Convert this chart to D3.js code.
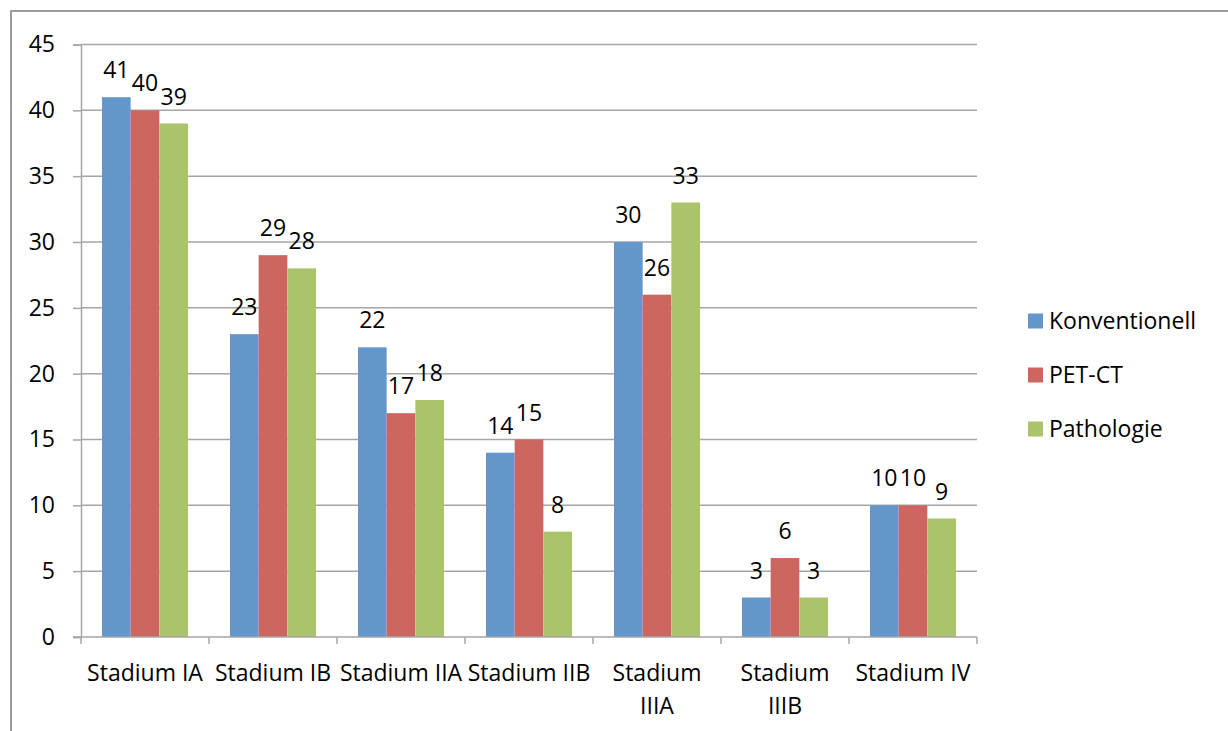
<!DOCTYPE html>
<html>
<head>
<meta charset="utf-8">
<script src="https://cdn.jsdelivr.net/npm/d3@7"></script>
<style>
  html, body { margin: 0; padding: 0; background: #fff; }
  svg { display: block; }
  text { font-family: "Open Sans", sans-serif; fill: #000; }
</style>
</head>
<body>
<svg id="chart" width="1228" height="731"></svg>
<script>
// Staging results per method
const categories = ["Stadium IA", "Stadium IB", "Stadium IIA", "Stadium IIB", "Stadium IIIA", "Stadium IIIB", "Stadium IV"];
const seriesNames = ["Konventionell", "PET-CT", "Pathologie"];
const konventionell = [41, 23, 22, 14, 30, 3, 10];
const petCt = [40, 29, 17, 15, 26, 6, 10];
const pathologie = [39, 28, 18, 8, 33, 3, 9];
const yTicks = [0, 5, 10, 15, 20, 25, 30, 35, 40, 45];
const seriesColors = ["#6396cb", "#cd6661", "#abc46c"];

const seriesValues = [konventionell, petCt, pathologie];

const svg = d3.select("#chart");
const gridColor = "#a6a6a6";
const fontSize = 23;

// outer chart frame
svg.append("rect")
  .attr("x", 11).attr("y", 11)
  .attr("width", 1300).attr("height", 800)
  .attr("fill", "none")
  .attr("stroke", "#9c9c9c")
  .attr("stroke-width", 2);

const plot = { left: 81, right: 977, top: 44.5, bottom: 637 };

const x0 = d3.scaleBand()
  .domain(categories)
  .range([plot.left, plot.right])
  .paddingInner(0.328)
  .paddingOuter(0.164);

const x1 = d3.scaleBand()
  .domain(seriesNames)
  .range([0, x0.bandwidth()]);

const y = d3.scaleLinear()
  .domain([0, 45])
  .range([plot.bottom, plot.top]);

// horizontal gridlines
svg.append("g")
  .selectAll("line")
  .data(yTicks.filter(d => d > 0))
  .join("line")
  .attr("x1", plot.left).attr("x2", plot.right)
  .attr("y1", d => y(d)).attr("y2", d => y(d))
  .attr("stroke", gridColor)
  .attr("stroke-width", 1.5);

// y axis
const yAxis = svg.append("g")
  .attr("transform", `translate(${plot.left},0)`)
  .call(d3.axisLeft(y).tickValues(yTicks).tickSize(8).tickPadding(18).tickFormat(d3.format("d")));
yAxis.select(".domain").attr("stroke", gridColor).attr("stroke-width", 1.5);
yAxis.selectAll(".tick line").attr("stroke", gridColor).attr("stroke-width", 1.5);
yAxis.selectAll(".tick text")
  .style("font-family", "'Open Sans', sans-serif")
  .style("font-size", fontSize + "px")
  .attr("fill", "#000");

// bars
const groups = svg.append("g")
  .selectAll("g")
  .data(categories)
  .join("g")
  .attr("transform", d => `translate(${x0(d)},0)`);

groups.selectAll("rect")
  .data((c, i) => seriesNames.map((s, k) => ({ series: s, value: seriesValues[k][i], k })))
  .join("rect")
  .attr("x", d => x1(d.series))
  .attr("y", d => y(d.value))
  .attr("width", x1.bandwidth())
  .attr("height", d => y(0) - y(d.value))
  .attr("fill", d => seriesColors[d.k]);

// value labels above bars
groups.selectAll("text")
  .data((c, i) => seriesNames.map((s, k) => ({ series: s, value: seriesValues[k][i] })))
  .join("text")
  .attr("x", d => x1(d.series) + x1.bandwidth() / 2)
  .attr("y", d => y(d.value) - 19)
  .attr("text-anchor", "middle")
  .style("font-size", fontSize + "px")
  .text(d => d.value);

// x axis with category boundary ticks
const xAxisG = svg.append("g");
xAxisG.append("line")
  .attr("x1", plot.left - 8).attr("x2", plot.right)
  .attr("y1", plot.bottom).attr("y2", plot.bottom)
  .attr("stroke", gridColor).attr("stroke-width", 1.5);
const step = x0.step();
const bounds = d3.range(categories.length + 1).map(i => plot.left + i * step);
xAxisG.selectAll("line.tick")
  .data(bounds)
  .join("line")
  .attr("class", "tick")
  .attr("x1", d => d).attr("x2", d => d)
  .attr("y1", plot.bottom).attr("y2", plot.bottom + 7)
  .attr("stroke", gridColor).attr("stroke-width", 1.5);

// category labels, wrapped onto two lines when wider than the band
const catLabels = xAxisG.selectAll("text.cat")
  .data(categories)
  .join("text")
  .attr("class", "cat")
  .attr("x", d => x0(d) + x0.bandwidth() / 2)
  .attr("y", 681)
  .attr("text-anchor", "middle")
  .style("font-size", fontSize + "px")
  .text(d => d);

catLabels.each(function(d) {
  const t = d3.select(this);
  if (this.getComputedTextLength() > 126) {
    const words = d.split(" ");
    const cx = +t.attr("x");
    t.text(null);
    words.forEach((w, i) => {
      t.append("tspan")
        .attr("x", cx)
        .attr("dy", i === 0 ? 0 : 33)
        .text(w);
    });
  }
});

// legend
const legend = svg.append("g")
  .selectAll("g")
  .data(seriesNames)
  .join("g")
  .attr("transform", (d, i) => `translate(1028,${321 + i * 54})`);
legend.append("rect")
  .attr("x", 0).attr("y", -7.5)
  .attr("width", 15).attr("height", 15)
  .attr("fill", (d, i) => seriesColors[i]);
legend.append("text")
  .attr("x", 21).attr("y", 0)
  .attr("dy", "0.35em")
  .style("font-size", fontSize + "px")
  .text(d => d);
</script>
</body>
</html>
